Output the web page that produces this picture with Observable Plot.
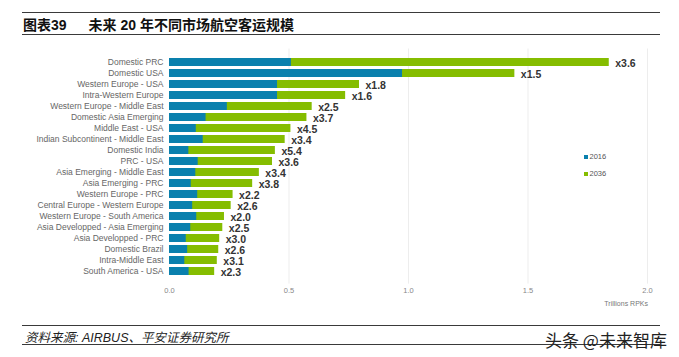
<!DOCTYPE html>
<html>
<head>
<meta charset="utf-8">
<script src="https://cdn.jsdelivr.net/npm/d3@7"></script>
<script src="https://cdn.jsdelivr.net/npm/@observablehq/plot@0.6"></script>
<style>
  html, body { margin: 0; padding: 0; background: #fff; }
  body { width: 679px; height: 357px; position: relative; overflow: hidden; font-family: "Liberation Sans", Arial, sans-serif; }
  .hline { position: absolute; left: 22px; width: 638px; height: 0; border-top: 1.5px solid #3a3a3a; }
  #title { position: absolute; left: 23px; top: 14px; font-size: 14px; font-weight: bold; color: #111; font-family: "Liberation Sans", "Noto Sans CJK SC", sans-serif; white-space: nowrap; }
  #title .num { margin-right: 22px; }
  #chart { position: absolute; left: 0; top: 40px; }
  #legend { position: absolute; left: 584px; top: 152px; font-size: 7.5px; color: #555; }
  #legend div { height: 16.5px; display: flex; align-items: flex-start; }
  #legend span.sw { display: inline-block; width: 4px; height: 4px; margin-right: 1.5px; margin-top: 3px; }
  #unit { position: absolute; right: 31px; top: 300px; font-size: 7px; color: #777; }
  #source { position: absolute; left: 25px; top: 327px; font-size: 12.5px; font-style: italic; color: #222; font-family: "Liberation Sans", "Noto Sans CJK SC", sans-serif; white-space: nowrap; }
  #wm { position: absolute; left: 545px; top: 327px; font-size: 17px; color: #222; font-family: "Noto Sans CJK SC", sans-serif; white-space: nowrap; }
</style>
</head>
<body>
<div class="hline" style="top:12px"></div>
<div id="title"><span class="num">图表39</span>未来 20 年不同市场航空客运规模</div>
<div class="hline" style="top:34px"></div>
<div id="chart"></div>
<div id="legend">
  <div><span class="sw" style="background:#0a80ad"></span>2016</div>
  <div><span class="sw" style="background:#85bd00"></span>2036</div>
</div>
<div id="unit">Trillions RPKs</div>
<div class="hline" style="top:325px"></div>
<div id="source">资料来源: AIRBUS、平安证券研究所</div>
<div class="hline" style="top:344px"></div>
<div id="wm">头条 @未来智库</div>
<script>
const categories = [
  "Domestic PRC", "Domestic USA", "Western Europe - USA", "Intra-Western Europe",
  "Western Europe - Middle East", "Domestic Asia Emerging", "Middle East - USA",
  "Indian Subcontinent - Middle East", "Domestic India", "PRC - USA",
  "Asia Emerging - Middle East", "Asia Emerging - PRC", "Western Europe - PRC",
  "Central Europe - Western Europe", "Western Europe - South America",
  "Asia Developped - Asia Emerging", "Asia Developped - PRC", "Domestic Brazil",
  "Intra-Middle East", "South America - USA"
];
const values2016 = [0.51, 0.975, 0.452, 0.452, 0.242, 0.153, 0.112, 0.141, 0.081, 0.12,
  0.11, 0.091, 0.118, 0.097, 0.114, 0.089, 0.07, 0.076, 0.064, 0.082];
const values2036 = [1.84, 1.445, 0.795, 0.737, 0.597, 0.575, 0.508, 0.484, 0.443, 0.431,
  0.376, 0.348, 0.266, 0.258, 0.23, 0.223, 0.21, 0.206, 0.2, 0.189];
const growth = ["x3.6", "x1.5", "x1.8", "x1.6", "x2.5", "x3.7", "x4.5", "x3.4", "x5.4", "x3.6",
  "x3.4", "x3.8", "x2.2", "x2.6", "x2.0", "x2.5", "x3.0", "x2.6", "x3.1", "x2.3"];
const xTicks = [0, 0.5, 1.0, 1.5, 2.0];

const blue = "#0a80ad", green = "#85bd00";
const data = categories.map((c, i) => ({cat: c, v2016: values2016[i], v2036: values2036[i], g: growth[i]}));

const chart = Plot.plot({
  width: 679,
  height: 272,
  marginLeft: 169,
  marginRight: 32,
  marginTop: 8.5,
  marginBottom: 28.4,
  style: {fontFamily: "'Liberation Sans', Arial, sans-serif", background: "transparent"},
  x: {domain: [0, 2]},
  y: {domain: categories, padding: 0.3},
  marks: [
    Plot.ruleX(xTicks.slice(1), {stroke: "#ededed", strokeWidth: 1}),
    Plot.barX(data, {x: "v2036", y: "cat", fill: green}),
    Plot.barX(data, {x: "v2016", y: "cat", fill: blue}),
    Plot.text(data, {x: "v2036", y: "cat", text: "g", textAnchor: "start", dx: 6, dy: 1.5, fontWeight: "bold", fontSize: 10.5, fill: "#333"}),
    Plot.axisY({tickSize: 0, tickPadding: 6, fontSize: 8.5, color: "#666", label: null}),
    Plot.axisX({ticks: xTicks, tickFormat: d3.format(".1f"), tickSize: 0, tickPadding: 4, fontSize: 7.5, color: "#888", label: null})
  ]
});
document.getElementById("chart").appendChild(chart);
</script>
</body>
</html>
